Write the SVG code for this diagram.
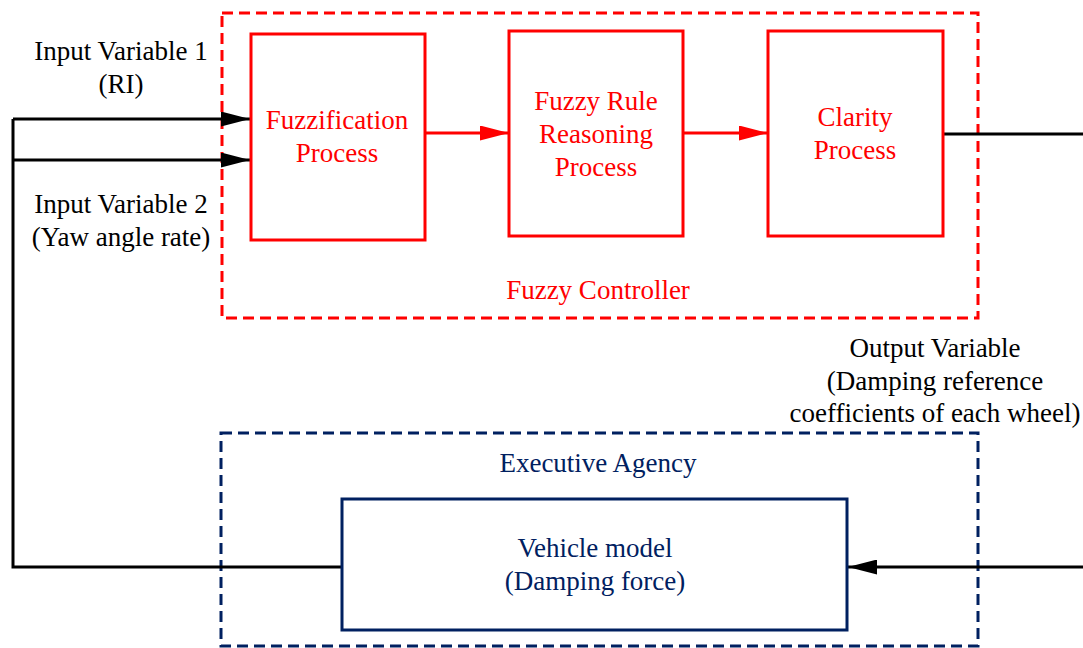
<svg xmlns="http://www.w3.org/2000/svg" width="1083" height="648" viewBox="0 0 1083 648">
<style>
text{font-family:"Liberation Serif","Times New Roman",serif;font-size:27px;text-anchor:middle}
.k{fill:#000}
.r{fill:#ff0000}
.b{fill:#002060}
.box-r{fill:#fff;stroke:#ff0000;stroke-width:3}
.box-b{fill:#fff;stroke:#002060;stroke-width:3}
.dash-r{fill:none;stroke:#ff0000;stroke-width:3;stroke-dasharray:11 6}
.dash-b{fill:none;stroke:#002060;stroke-width:3;stroke-dasharray:11 6}
.ln{fill:none;stroke:#000;stroke-width:3}
.lr{fill:none;stroke:#ff0000;stroke-width:3}
</style>
<defs>
<marker id="ak" viewBox="0 0 29 15" refX="29" refY="7.5" markerWidth="29" markerHeight="15" markerUnits="userSpaceOnUse" orient="auto"><path d="M0,0 L29,7.5 L0,15 z" fill="#000"/></marker>
<marker id="ar" viewBox="0 0 29 15" refX="29" refY="7.5" markerWidth="29" markerHeight="15" markerUnits="userSpaceOnUse" orient="auto"><path d="M0,0 L29,7.5 L0,15 z" fill="#ff0000"/></marker>
</defs>
<g id="fuzzy-controller">
<rect class="dash-r" x="222" y="13" width="756" height="305"/>
<text class="r" x="598" y="299">Fuzzy Controller</text>
</g>
<g id="executive-agency">
<rect class="dash-b" x="221" y="433" width="757" height="213"/>
<text class="b" x="598" y="472">Executive Agency</text>
</g>
<g id="connectors">
<path class="ln" d="M13,119 L13,567 L342,567"/>
<path class="ln" d="M13,119 L250,119" marker-end="url(#ak)"/>
<path class="ln" d="M13,160 L250,160" marker-end="url(#ak)"/>
<path class="lr" d="M425,133 L509,133" marker-end="url(#ar)"/>
<path class="lr" d="M683,133 L768,133" marker-end="url(#ar)"/>
<path class="ln" d="M943,134 L1083,134"/>
<path class="ln" d="M1083,567 L848,567" marker-end="url(#ak)"/>
</g>
<g id="fuzzification">
<rect class="box-r" x="251" y="34" width="174" height="206"/>
<text class="r" x="337" y="129">Fuzzification</text>
<text class="r" x="337" y="162">Process</text>
</g>
<g id="fuzzy-rule">
<rect class="box-r" x="509" y="31" width="174" height="205"/>
<text class="r" x="596" y="110">Fuzzy Rule</text>
<text class="r" x="596" y="143">Reasoning</text>
<text class="r" x="596" y="176">Process</text>
</g>
<g id="clarity">
<rect class="box-r" x="768" y="31" width="175" height="205"/>
<text class="r" x="855" y="126">Clarity</text>
<text class="r" x="855" y="159">Process</text>
</g>
<g id="vehicle-model">
<rect class="box-b" x="342" y="499" width="505" height="131"/>
<text class="b" x="595" y="557">Vehicle model</text>
<text class="b" x="595" y="590">(Damping force)</text>
</g>
<g id="labels">
<text class="k" x="121" y="60">Input Variable 1</text>
<text class="k" x="121" y="93">(RI)</text>
<text class="k" x="121" y="213">Input Variable 2</text>
<text class="k" x="121" y="246">(Yaw angle rate)</text>
<text class="k" x="935" y="357">Output Variable</text>
<text class="k" x="935" y="390">(Damping reference</text>
<text class="k" x="935" y="422">coefficients of each wheel)</text>
</g>
</svg>
